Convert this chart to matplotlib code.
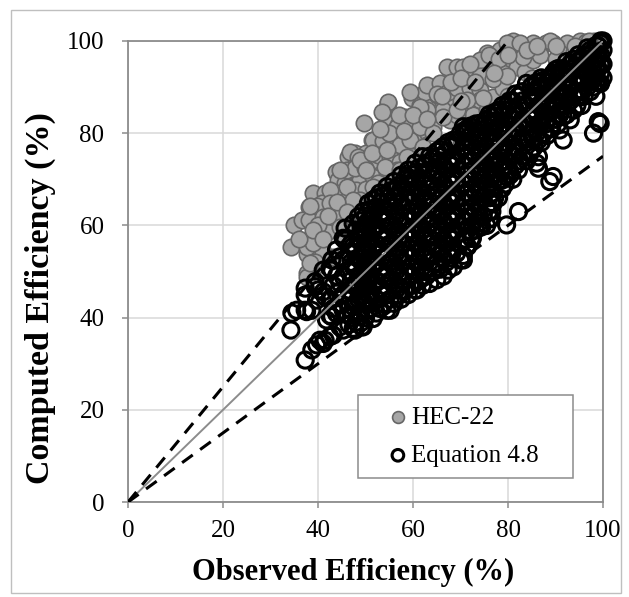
import matplotlib
matplotlib.use("Agg")
import matplotlib.pyplot as plt
from matplotlib.patches import Rectangle

plt.rcParams['font.family'] = ['Liberation Serif', 'DejaVu Serif']

# HEC-22 (observed %, computed %)
hec22 = [
    (49.7, 82.3), (51.3, 78.5), (46.3, 74.9), (47.8, 75.8), (48.0, 73.1), (43.7, 71.6), (44.2, 69.8),
    (45.7, 69.2), (47.8, 68.8), (49.5, 68.4), (50.5, 71.4), (38.9, 67.0), (41.5, 67.0), (43.9, 67.0),
    (46.3, 68.4), (38.1, 64.0), (40.8, 64.8), (42.9, 64.4), (45.3, 64.4), (47.4, 65.1), (49.9, 65.5),
    (35.0, 60.1), (36.6, 61.2), (38.1, 61.2), (41.5, 58.6), (43.6, 59.4), (45.7, 59.0), (47.1, 61.9),
    (49.3, 60.5), (34.3, 55.3), (37.6, 53.8), (39.2, 56.2), (41.1, 54.3), (37.6, 49.7), (39.7, 51.4),
    (41.8, 58.6), (39.4, 52.1), (37.6, 55.3), (37.6, 48.9), (39.7, 64.1), (44.6, 62.0), (45.3, 57.6),
    (47.1, 67.0), (48.1, 73.5), (48.8, 69.8), (50.2, 75.6), (51.6, 74.2), (53.0, 69.8), (53.7, 75.7),
    (56.2, 75.3), (56.8, 71.6), (59.7, 74.9), (62.1, 75.3), (53.7, 84.4), (54.7, 86.6), (54.5, 82.2),
    (56.8, 81.8), (58.3, 83.6), (59.4, 81.4), (59.7, 87.6), (61.5, 86.1), (63.6, 84.3), (65.0, 85.7),
    (67.1, 86.5), (67.8, 82.8), (62.2, 80.7), (63.9, 80.7), (51.6, 78.5), (53.7, 78.2), (55.9, 78.5),
    (57.9, 78.5), (60.1, 77.8), (62.2, 76.7), (46.7, 76.0), (48.5, 74.9), (52.7, 75.3), (55.2, 74.9),
    (57.3, 73.8), (59.4, 73.5), (46.0, 72.0), (47.8, 72.4), (49.9, 72.4), (51.6, 70.6), (54.5, 71.6),
    (56.6, 72.0), (52.7, 69.1), (48.1, 67.7), (50.2, 68.0), (46.0, 65.5), (48.8, 65.5), (53.7, 66.2),
    (62.9, 86.8), (65.0, 88.3), (62.5, 89.0), (59.4, 89.0), (54.8, 86.8), (53.4, 84.7), (56.6, 81.4),
    (67.1, 94.4), (69.2, 94.4), (70.6, 94.4), (62.9, 90.5), (65.7, 90.9), (65.0, 88.6), (67.4, 89.0),
    (69.2, 89.7), (72.0, 89.7), (72.7, 93.0), (74.8, 95.2), (77.3, 95.5), (75.5, 97.3), (78.3, 98.0),
    (81.1, 99.9), (82.9, 99.1), (85.3, 99.5), (88.1, 99.5), (79.0, 94.2), (81.8, 94.4), (83.6, 93.3),
    (85.3, 95.9), (74.1, 89.4), (71.3, 85.7), (74.1, 87.2), (72.7, 83.9), (75.5, 85.0), (76.9, 87.9),
    (79.0, 89.7), (69.2, 83.9), (66.4, 85.0), (62.9, 85.0), (64.3, 81.4), (61.5, 80.7), (57.3, 77.4),
    (60.1, 78.5), (48.8, 74.2), (51.3, 75.6), (54.5, 76.4), (44.6, 72.0), (50.2, 72.0), (54.1, 72.7),
    (57.3, 72.0), (60.1, 73.5), (42.5, 67.7), (46.0, 68.4), (51.6, 68.4), (55.2, 69.1), (58.7, 67.7),
    (38.3, 64.1), (42.5, 64.8), (47.4, 65.5), (49.5, 62.6), (41.1, 61.9), (44.6, 59.7), (47.4, 58.3),
    (39.0, 56.1), (38.3, 51.8), (43.2, 53.2), (74.1, 95.9), (79.7, 99.6), (82.5, 99.5), (89.5, 99.5),
    (92.4, 99.5), (95.2, 99.9), (88.8, 100.0), (83.2, 96.6), (86.7, 97.0), (90.9, 97.3), (93.8, 97.7),
    (79.0, 93.0), (74.1, 92.4), (76.9, 91.7), (79.7, 92.4), (71.3, 87.2), (74.8, 87.6), (61.5, 85.7),
    (66.4, 83.6), (69.2, 85.0), (59.0, 82.9), (61.5, 81.4), (64.3, 80.0), (59.4, 78.5), (62.2, 77.1),
    (58.7, 74.9), (55.0, 64.0), (60.0, 70.0), (65.0, 74.0), (70.0, 78.0), (75.0, 82.0), (80.0, 88.0),
    (85.0, 92.0), (90.0, 96.0), (95.0, 98.0), (97.0, 99.0), (98.0, 100.0), (96.5, 99.8),
    (40.0, 60.0), (42.0, 62.0), (44.0, 65.0), (46.0, 63.0), (36.0, 57.0), (39.0, 59.0), (41.0, 57.0),
    (55.0, 80.0), (58.0, 80.5), (53.0, 81.0), (57.0, 84.0), (60.0, 84.0), (63.0, 83.0), (66.0, 88.0),
    (68.0, 91.0), (70.0, 92.0), (72.0, 95.0), (76.0, 97.0), (78.0, 96.0), (80.0, 97.0), (84.0, 98.0),
    (86.0, 99.0), (90.0, 99.0), (94.0, 99.0), (97.0, 100.0), (70.0, 87.0), (73.0, 91.0), (77.0, 93.0),
]

# Equation 4.8 (observed %, computed %)
eq48 = [
    (34.3, 37.3), (34.5, 41.0), (35.5, 41.6), (37.3, 30.8), (37.3, 41.6), (37.3, 44.9), (37.3, 46.4),
    (37.6, 41.3), (38.7, 33.0), (38.7, 41.6), (39.4, 47.8), (39.4, 46.7), (39.7, 43.8), (39.7, 34.1),
    (40.1, 46.0), (40.4, 35.1), (41.1, 34.4), (41.1, 45.6), (41.1, 50.3), (41.5, 35.1), (41.5, 44.5),
    (41.8, 39.5), (42.5, 35.9), (42.5, 50.7), (42.5, 40.5), (42.5, 44.0), (42.9, 40.2), (42.9, 52.5),
    (42.9, 50.3), (43.2, 36.2), (43.2, 42.0), (43.2, 47.0), (43.9, 40.9), (43.9, 45.3), (43.9, 54.7),
    (43.9, 49.0), (44.6, 53.2), (44.6, 38.0), (44.6, 43.0), (44.6, 47.5), (45.3, 57.2), (45.3, 37.3),
    (45.3, 41.6), (45.3, 48.9), (45.3, 52.5), (45.3, 45.0), (45.7, 59.4), (45.7, 56.8),
    (46.5, 38.5), (46.5, 42.0), (46.5, 46.0), (46.5, 50.0), (46.5, 54.0),
    (47.4, 37.7), (47.4, 42.4), (47.4, 47.0), (47.4, 51.0), (47.4, 55.5), (47.4, 60.4),
    (48.5, 40.2), (48.5, 44.0), (48.5, 46.0), (48.5, 49.0), (48.5, 53.0), (48.5, 57.0), (48.5, 61.9),
    (49.5, 38.0), (49.5, 43.8), (49.5, 47.0), (49.5, 51.0), (49.5, 55.0), (49.5, 59.0), (49.5, 63.0),
    (50.6, 41.6), (50.6, 45.0), (50.6, 49.0), (50.6, 53.0), (50.6, 57.0), (50.6, 61.0), (50.6, 64.8),
    (51.6, 39.8), (51.6, 43.5), (51.6, 47.0), (51.6, 51.0), (51.6, 55.0), (51.6, 59.0), (51.6, 62.0),
    (51.6, 65.5),
    (53.0, 42.0), (53.0, 46.0), (53.0, 50.0), (53.0, 54.0), (53.0, 58.0), (53.0, 62.0), (53.0, 67.0),
    (54.5, 41.6), (54.5, 45.0), (54.5, 49.0), (54.5, 53.0), (54.5, 57.0), (54.5, 61.0), (54.5, 65.0),
    (54.5, 68.4),
    (56.0, 43.1), (56.0, 47.0), (56.0, 51.0), (56.0, 55.0), (56.0, 59.0), (56.0, 63.0), (56.0, 66.0),
    (56.0, 69.5),
    (57.5, 44.0), (57.5, 48.0), (57.5, 52.0), (57.5, 56.0), (57.5, 60.0), (57.5, 64.0), (57.5, 68.0),
    (57.5, 70.9),
    (59.0, 45.0), (59.0, 49.0), (59.0, 53.0), (59.0, 57.0), (59.0, 61.0), (59.0, 65.0), (59.0, 69.0),
    (59.0, 72.0),
    (60.5, 46.0), (60.5, 50.0), (60.5, 54.0), (60.5, 58.0), (60.5, 62.0), (60.5, 66.0), (60.5, 70.0),
    (60.5, 73.5),
    (62.0, 47.0), (62.0, 51.0), (62.0, 55.0), (62.0, 59.0), (62.0, 63.0), (62.0, 67.0), (62.0, 71.0),
    (62.0, 74.9),
    (63.5, 47.4), (63.5, 52.0), (63.5, 56.0), (63.5, 60.0), (63.5, 64.0), (63.5, 68.0), (63.5, 72.0),
    (63.5, 75.0),
    (65.0, 48.2), (65.0, 52.0), (65.0, 56.0), (65.0, 60.0), (65.0, 64.0), (65.0, 68.0), (65.0, 72.0),
    (65.0, 76.0),
    (66.4, 49.0), (66.4, 53.0), (66.4, 57.0), (66.4, 61.0), (66.4, 65.0), (66.4, 69.0), (66.4, 73.0),
    (66.4, 77.1),
    (67.4, 50.3), (67.4, 54.0), (67.4, 58.0), (67.4, 62.0), (67.4, 66.0), (67.4, 70.0), (67.4, 74.0),
    (67.4, 78.0),
    (68.5, 51.0), (68.5, 55.0), (68.5, 59.0), (68.5, 63.0), (68.5, 67.0), (68.5, 71.0), (68.5, 75.0),
    (68.5, 78.5),
    (70.0, 52.5), (70.0, 56.0), (70.0, 60.0), (70.0, 64.0), (70.0, 68.0), (70.0, 72.0), (70.0, 76.0),
    (70.0, 80.0), (70.6, 53.5), (70.6, 81.4),
    (71.5, 55.4), (71.5, 59.0), (71.5, 63.0), (71.5, 67.0), (71.5, 71.0), (71.5, 75.0), (71.5, 79.0),
    (71.5, 81.0),
    (72.5, 57.2), (72.5, 60.0), (72.5, 64.0), (72.5, 68.0), (72.5, 72.0), (72.5, 76.0), (72.5, 80.0),
    (74.0, 59.7), (74.0, 62.0), (74.0, 66.0), (74.0, 70.0), (74.0, 74.0), (74.0, 78.0), (74.0, 82.1),
    (75.5, 60.0), (75.5, 64.0), (75.5, 68.0), (75.5, 72.0), (75.5, 76.0), (75.5, 80.0), (75.5, 83.0),
    (76.5, 61.5), (76.5, 64.8), (76.5, 68.0), (76.5, 72.0), (76.5, 76.0), (76.5, 80.0), (76.5, 83.5),
    (78.0, 66.0), (78.0, 69.8), (78.0, 73.0), (78.0, 77.0), (78.0, 81.0), (78.0, 85.0),
    (79.7, 60.1), (79.7, 70.6), (79.7, 74.0), (79.7, 78.0), (79.7, 82.0), (79.7, 86.0),
    (81.0, 70.0), (81.0, 75.0), (81.0, 79.0), (81.0, 83.0), (81.0, 87.0),
    (82.2, 63.0), (82.2, 72.0), (82.2, 76.0), (82.2, 80.0), (82.2, 84.0), (82.2, 88.0),
    (83.9, 74.0), (83.9, 78.0), (83.9, 82.0), (83.9, 86.0), (83.9, 90.8), (84.6, 75.6),
    (85.5, 77.0), (85.5, 81.0), (85.5, 85.0), (85.5, 89.0),
    (86.4, 72.4), (86.4, 74.9), (86.4, 78.5), (86.4, 82.0), (86.4, 86.0), (86.4, 90.0),
    (87.5, 80.0), (87.5, 84.0), (87.5, 88.0), (87.5, 91.5),
    (88.8, 69.5), (88.8, 81.0), (88.8, 85.0), (88.8, 89.0), (88.8, 92.0), (89.5, 70.6), (89.5, 93.0),
    (90.0, 83.0), (90.0, 87.0), (90.0, 91.0), (90.0, 93.7),
    (90.9, 80.7), (90.9, 84.0), (90.9, 88.0), (90.9, 92.0),
    (91.6, 78.5), (91.6, 83.6), (91.6, 86.0), (91.6, 90.0), (91.6, 94.0),
    (93.1, 82.9), (93.1, 87.0), (93.1, 90.0), (93.1, 93.0), (93.1, 95.0),
    (94.5, 86.0), (94.5, 89.0), (94.5, 92.0), (94.5, 95.5), (95.2, 87.9),
    (96.0, 88.0), (96.0, 91.0), (96.0, 94.0), (96.0, 97.0),
    (97.3, 89.0), (97.3, 92.0), (97.3, 95.0), (97.3, 98.0),
    (98.0, 80.0), (98.0, 90.0), (98.0, 93.0), (98.0, 96.0),
    (99.0, 82.5), (99.0, 91.0), (99.0, 94.0), (99.0, 97.0), (99.0, 99.0),
    (99.5, 90.8), (99.5, 93.0), (99.5, 95.0), (99.5, 97.0), (99.5, 99.5), (99.5, 100.0),
    (76.9, 64.8), (76.2, 61.5), (74.5, 59.7), (72.3, 57.2), (71.3, 55.4), (70.6, 52.5),
    (78.7, 69.8), (80.4, 70.9), (86.0, 73.5), (85.3, 78.5), (99.4, 82.1), (60.8, 46.0),
    (55.2, 41.6), (49.2, 38.0), (47.8, 37.3),
    (47.0, 40.0), (47.0, 44.0), (47.0, 48.0), (47.0, 52.0), (47.0, 56.0),
    (48.0, 39.0), (48.0, 43.0), (48.0, 47.5), (48.0, 51.0), (48.0, 55.0), (48.0, 59.0),
    (49.0, 41.0), (49.0, 45.0), (49.0, 49.0), (49.0, 53.0), (49.0, 57.0), (49.0, 61.0),
    (50.0, 40.0), (50.0, 43.0), (50.0, 47.0), (50.0, 51.0), (50.0, 55.0), (50.0, 59.0), (50.0, 62.0),
    (51.1, 42.0), (51.1, 45.5), (51.1, 49.0), (51.1, 53.0), (51.1, 57.0), (51.1, 61.0), (51.1, 63.5),
    (52.3, 41.0), (52.3, 44.0), (52.3, 48.0), (52.3, 52.0), (52.3, 56.0), (52.3, 60.0), (52.3, 64.0),
    (52.3, 66.0),
    (53.8, 43.0), (53.8, 47.0), (53.8, 51.0), (53.8, 55.0), (53.8, 59.0), (53.8, 63.0), (53.8, 66.5),
    (55.2, 44.0), (55.2, 48.0), (55.2, 52.0), (55.2, 56.0), (55.2, 60.0), (55.2, 64.0), (55.2, 67.5),
    (56.8, 45.0), (56.8, 49.0), (56.8, 53.0), (56.8, 57.0), (56.8, 61.0), (56.8, 65.0), (56.8, 68.5),
    (58.2, 46.0), (58.2, 50.0), (58.2, 54.0), (58.2, 58.0), (58.2, 62.0), (58.2, 66.0), (58.2, 70.0),
    (59.8, 47.0), (59.8, 51.0), (59.8, 55.0), (59.8, 59.0), (59.8, 63.0), (59.8, 67.0), (59.8, 71.0),
    (61.2, 48.0), (61.2, 52.0), (61.2, 56.0), (61.2, 60.0), (61.2, 64.0), (61.2, 68.0), (61.2, 72.5),
    (62.8, 49.0), (62.8, 53.0), (62.8, 57.0), (62.8, 61.0), (62.8, 65.0), (62.8, 69.0), (62.8, 73.5),
    (64.2, 50.0), (64.2, 54.0), (64.2, 58.0), (64.2, 62.0), (64.2, 66.0), (64.2, 70.0), (64.2, 74.5),
    (65.7, 50.5), (65.7, 54.0), (65.7, 58.0), (65.7, 62.0), (65.7, 66.0), (65.7, 70.0), (65.7, 74.0),
    (65.7, 76.5),
    (67.0, 52.0), (67.0, 56.0), (67.0, 60.0), (67.0, 64.0), (67.0, 68.0), (67.0, 72.0), (67.0, 76.0),
    (68.0, 53.0), (68.0, 57.0), (68.0, 61.0), (68.0, 65.0), (68.0, 69.0), (68.0, 73.0), (68.0, 77.0),
    (69.2, 54.0), (69.2, 58.0), (69.2, 62.0), (69.2, 66.0), (69.2, 70.0), (69.2, 74.0), (69.2, 78.0),
    (70.8, 57.0), (70.8, 61.0), (70.8, 65.0), (70.8, 69.0), (70.8, 73.0), (70.8, 77.0), (70.8, 80.5),
    (72.0, 58.5), (72.0, 62.0), (72.0, 66.0), (72.0, 70.0), (72.0, 74.0), (72.0, 78.0), (72.0, 81.5),
    (73.2, 59.0), (73.2, 63.0), (73.2, 67.0), (73.2, 71.0), (73.2, 75.0), (73.2, 79.0), (73.2, 82.0),
    (74.8, 62.0), (74.8, 66.0), (74.8, 70.0), (74.8, 74.0), (74.8, 78.0), (74.8, 82.0),
    (76.0, 63.0), (76.0, 66.0), (76.0, 70.0), (76.0, 74.0), (76.0, 78.0), (76.0, 82.0), (76.0, 84.0),
    (77.2, 66.0), (77.2, 70.0), (77.2, 74.0), (77.2, 78.0), (77.2, 82.0), (77.2, 84.5),
    (78.8, 68.0), (78.8, 72.0), (78.8, 76.0), (78.8, 80.0), (78.8, 84.0), (78.8, 86.0),
    (80.3, 72.0), (80.3, 76.0), (80.3, 80.0), (80.3, 84.0), (80.3, 87.0),
    (81.6, 73.0), (81.6, 77.0), (81.6, 81.0), (81.6, 85.0), (81.6, 88.5),
    (83.0, 75.0), (83.0, 79.0), (83.0, 83.0), (83.0, 87.0), (83.0, 89.0),
    (84.8, 76.0), (84.8, 80.0), (84.8, 84.0), (84.8, 88.0), (84.8, 90.0),
    (86.0, 80.0), (86.0, 84.0), (86.0, 88.0), (86.0, 91.0),
    (87.0, 78.0), (87.0, 82.0), (87.0, 86.0), (87.0, 90.0), (87.0, 92.0),
    (88.2, 79.5), (88.2, 83.0), (88.2, 87.0), (88.2, 91.0),
    (89.2, 81.0), (89.2, 85.0), (89.2, 89.0), (89.2, 92.5),
    (90.5, 82.0), (90.5, 86.0), (90.5, 90.0), (90.5, 94.0),
    (92.3, 84.0), (92.3, 88.0), (92.3, 92.0), (92.3, 95.5),
    (93.8, 85.0), (93.8, 88.0), (93.8, 91.0), (93.8, 94.0), (93.8, 96.0),
    (95.5, 86.0), (95.5, 89.0), (95.5, 92.0), (95.5, 96.0),
    (96.7, 90.0), (96.7, 93.0), (96.7, 96.0), (96.7, 98.5),
    (98.5, 88.0), (98.5, 91.0), (98.5, 94.0), (98.5, 97.0), (98.5, 99.0),
    (100.0, 92.0), (100.0, 95.0), (100.0, 98.0), (100.0, 100.0),
    (50.3, 44.0), (50.3, 48.0), (50.3, 52.0), (50.3, 56.0), (50.3, 60.0),
    (53.4, 45.0), (53.4, 49.0), (53.4, 53.0), (53.4, 57.0), (53.4, 61.0), (53.4, 65.0),
    (56.4, 46.0), (56.4, 50.0), (56.4, 54.0), (56.4, 58.0), (56.4, 62.0), (56.4, 66.0),
    (59.4, 47.0), (59.4, 51.0), (59.4, 55.0), (59.4, 59.0), (59.4, 63.0), (59.4, 67.0), (59.4, 70.0),
    (62.4, 50.0), (62.4, 54.0), (62.4, 58.0), (62.4, 62.0), (62.4, 66.0), (62.4, 70.0), (62.4, 73.0),
    (65.3, 51.0), (65.3, 55.0), (65.3, 59.0), (65.3, 63.0), (65.3, 67.0), (65.3, 71.0), (65.3, 75.0),
    (68.2, 54.0), (68.2, 58.0), (68.2, 62.0), (68.2, 66.0), (68.2, 70.0), (68.2, 74.0), (68.2, 77.5),
    (71.0, 57.0), (71.0, 61.0), (71.0, 65.0), (71.0, 69.0), (71.0, 73.0), (71.0, 77.0), (71.0, 80.0),
    (73.8, 60.5), (73.8, 64.0), (73.8, 68.0), (73.8, 72.0), (73.8, 76.0), (73.8, 80.0),
    (76.6, 63.0), (76.6, 67.0), (76.6, 71.0), (76.6, 75.0), (76.6, 79.0), (76.6, 82.5),
    (79.4, 69.0), (79.4, 73.0), (79.4, 77.0), (79.4, 81.0), (79.4, 85.0),
    (82.5, 74.0), (82.5, 78.0), (82.5, 82.0), (82.5, 86.0),
    (85.2, 79.0), (85.2, 83.0), (85.2, 87.0), (85.2, 90.5),
    (88.0, 82.0), (88.0, 86.0), (88.0, 90.0),
    (91.2, 85.0), (91.2, 89.0), (91.2, 93.0),
    (94.8, 88.0), (94.8, 91.0), (94.8, 94.0), (94.8, 97.0),
    (97.8, 91.5), (97.8, 94.5), (97.8, 97.5),
]

# reference lines: 1:1 and +/-25 %
line_1to1 = ([0, 100], [0, 100])
line_upper = ([0, 80], [0, 100])
line_lower = ([0, 100], [0, 75])

fig = plt.figure(figsize=(6.29, 5.97), dpi=100)
ax = fig.add_axes([0.2035, 0.159, 0.7552, 0.7724])

hx, hy = zip(*hec22)
ex, ey = zip(*eq48)
ax.scatter(hx, hy, s=140, facecolor='#a6a6a6', edgecolor='#666666', linewidth=1.2,
           label='HEC-22', zorder=3, clip_on=False)
ax.scatter(ex, ey, s=135, facecolor='none', edgecolor='black', linewidth=2.2,
           label='Equation 4.8', zorder=4, clip_on=False)

ax.plot(*line_1to1, color='#8c8c8c', lw=1.4, zorder=5)
ax.plot(*line_upper, color='black', lw=2.2, dashes=(4.3, 3.0), zorder=5)
ax.plot(*line_lower, color='black', lw=2.2, dashes=(4.3, 3.0), zorder=5)

ax.set_xlim(0, 100)
ax.set_ylim(0, 100)
ax.set_xticks(range(0, 101, 20))
ax.set_yticks(range(0, 101, 20))
ax.grid(True, color='#d9d9d9', lw=1.1, zorder=0)
ax.set_axisbelow(True)
for sp in ax.spines.values():
    sp.set_color('#8c8c8c')
    sp.set_linewidth(1.3)
ax.tick_params(axis='both', direction='out', length=4, width=1.1, color='#8c8c8c',
               labelsize=18, labelcolor='black')
ax.tick_params(axis='x', pad=9)
ax.tick_params(axis='y', pad=13)

ax.set_xlabel('Observed Efficiency (%)', fontsize=22, fontweight='bold')
ax.set_ylabel('Computed Efficiency (%)', fontsize=24.5, fontweight='bold')
ax.xaxis.set_label_coords(0.474, -0.152)
ax.yaxis.set_label_coords(-0.185, 0.443)
ax.xaxis.label.set_va('center')
ax.yaxis.label.set_va('center')

leg = ax.legend(loc='lower left', bbox_to_anchor=(0.484, 0.052, 0.453, 0.182),
                mode='expand', fontsize=18, frameon=True, fancybox=False,
                edgecolor='#8c8c8c', framealpha=1, borderaxespad=0,
                handlelength=2.3, handletextpad=-0.63, borderpad=0.45,
                labelspacing=0.62, markerscale=0.72)
leg.get_frame().set_linewidth(1.1)
leg.set_zorder(10)

fig.patches.append(Rectangle((0.017, 0.006), 0.97, 0.978, transform=fig.transFigure,
                             fill=False, edgecolor='#bfbfbf', lw=1))

fig.savefig('out.png', dpi=100)
